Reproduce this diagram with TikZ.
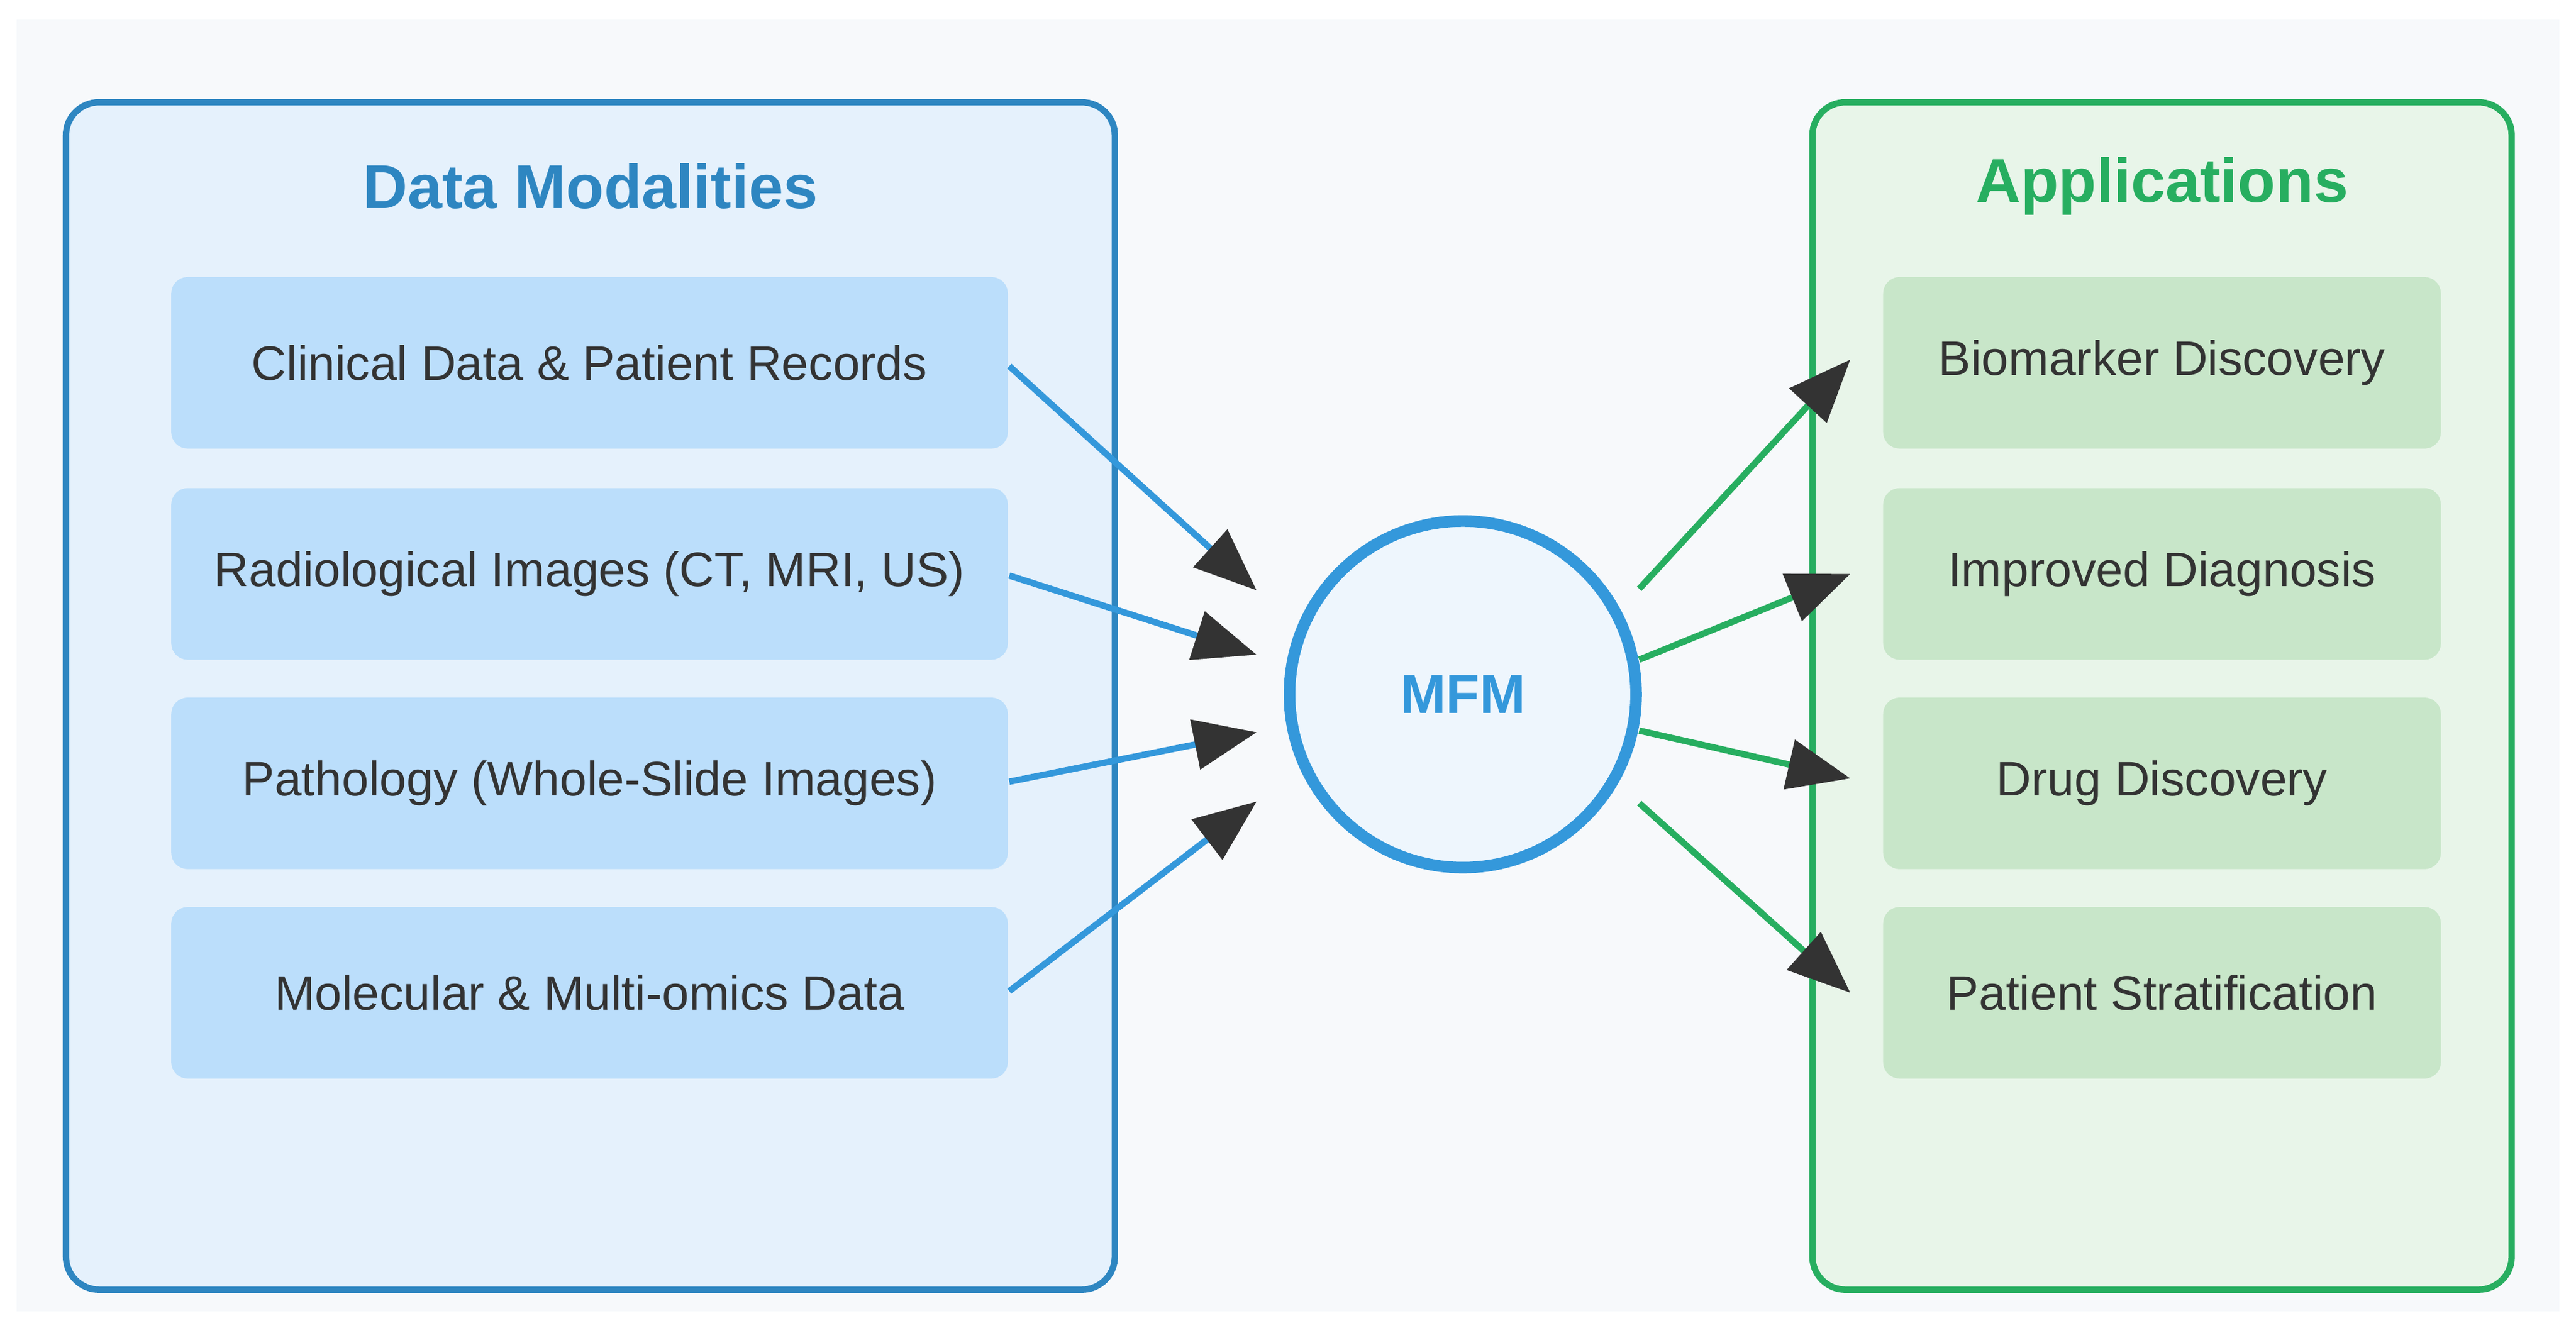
\documentclass[tikz,border=0pt]{standalone}
\usepackage{fontspec}
\setmainfont{Liberation Sans}
\usetikzlibrary{arrows.meta}
\definecolor{bg}{HTML}{F7F9FB}
\definecolor{lpan}{HTML}{E5F1FC}
\definecolor{lstr}{HTML}{2E86C1}
\definecolor{rpan}{HTML}{E8F5E9}
\definecolor{rstr}{HTML}{27AE60}
\definecolor{lbox}{HTML}{BBDEFB}
\definecolor{rbox}{HTML}{C8E6C9}
\definecolor{txt}{HTML}{333333}
\definecolor{circ}{HTML}{3498DB}
\definecolor{cfill}{HTML}{EEF6FD}
\begin{document}
\begin{tikzpicture}[x=0.01cm,y=-0.01cm,
  panel/.style={rounded corners=0.2cm,line width=1.1pt},
  item/.style={rounded corners=0.1cm,minimum width=5.07cm,minimum height=1.04cm,text=txt,font=\fontsize{8.35}{10}\selectfont,inner sep=0pt},
  ritem/.style={item,fill=rbox,minimum width=3.38cm},
  litem/.style={item,fill=lbox},
  ttl/.style={font=\bfseries\fontsize{10.7}{12}\selectfont},
  arr/.style={line width=1.1pt,-{Triangle[length=0.38cm,width=0.3cm,color=txt]}}]
\useasboundingbox (0,0) rectangle (1562,805);
\fill[white] (0,0) rectangle (1562,805);
\fill[bg] (10,12) rectangle (1552,795);
\draw[panel,fill=lpan,draw=lstr] (40,62) rectangle (676,782);
\draw[panel,fill=rpan,draw=rstr] (1099,62) rectangle (1523,782);
\node[ttl,text=lstr] (lt) at (358,113) {Data Modalities};
\node[ttl,text=rstr] (rt) at (1311,113) {Applications};
\node[litem] (l1) at (357.5,220) {Clinical Data \& Patient Records};
\node[litem] (l2) at (357.5,348) {Radiological Images (CT, MRI, US)};
\node[litem] (l3) at (357.5,475) {Pathology (Whole-Slide Images)};
\node[litem] (l4) at (357.5,602) {Molecular \& Multi-omics Data};
\node[ritem] (r1) at (1311,220) {Biomarker Discovery};
\node[ritem] (r2) at (1311,348) {Improved Diagnosis};
\node[ritem] (r3) at (1311,475) {Drug Discovery};
\node[ritem] (r4) at (1311,602) {Patient Stratification};
\node[circle,minimum size=2.1cm,fill=cfill,draw=circ,line width=2pt,text=circ,font=\bfseries\fontsize{9.5}{11}\selectfont] (m) at (887,421) {MFM};
\coordinate (a1s) at (612,222); \coordinate (a1e) at (762,358);
\coordinate (a2s) at (612,349); \coordinate (a2e) at (762,397);
\coordinate (a3s) at (612,474); \coordinate (a3e) at (762,444);
\coordinate (a4s) at (612,601); \coordinate (a4e) at (762,486);
\coordinate (b1s) at (994,357); \coordinate (b1e) at (1122,218);
\coordinate (b2s) at (994,400); \coordinate (b2e) at (1122,348);
\coordinate (b3s) at (994,443); \coordinate (b3e) at (1122,472);
\coordinate (b4s) at (994,487); \coordinate (b4e) at (1122,602);
\foreach \i in {1,2,3,4}{
  \draw[arr,circ] (a\i s) -- (a\i e);
  \draw[arr,rstr] (b\i s) -- (b\i e);
}
\end{tikzpicture}
\end{document}
